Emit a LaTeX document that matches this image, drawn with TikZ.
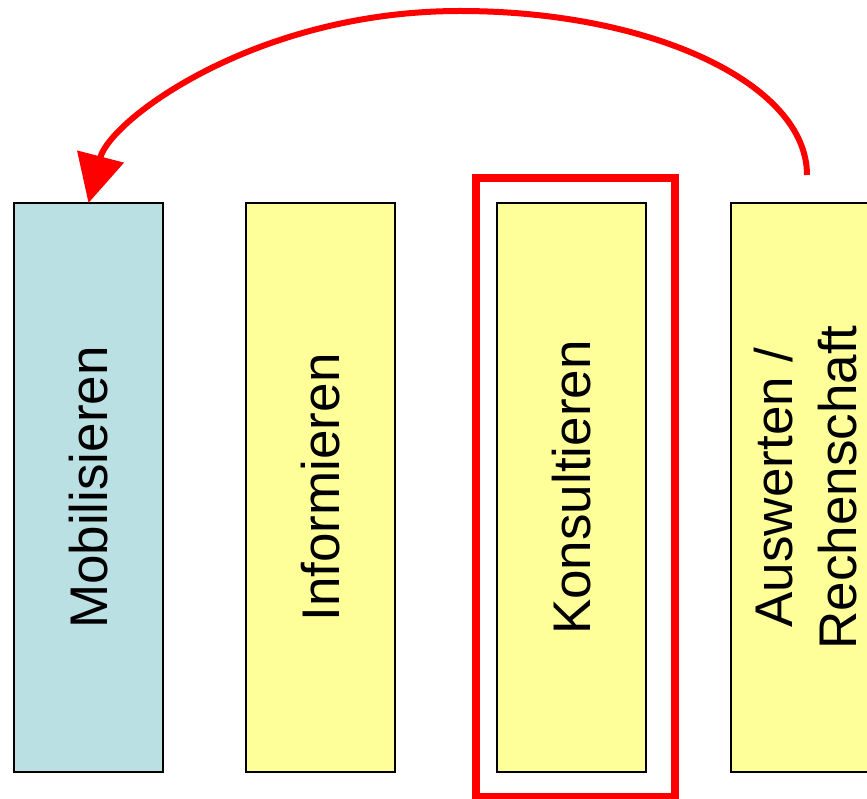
\documentclass[tikz,border=0pt]{standalone}
\usepackage{fontspec}
\setmainfont{Liberation Sans}
\usetikzlibrary{arrows.meta}
\definecolor{boxblue}{HTML}{BBE0E3}
\definecolor{boxyellow}{HTML}{FFFF99}
\begin{document}
\begin{tikzpicture}[x=1pt,y=-1pt,
  stagebox/.style={draw=black,line width=1.5pt,minimum width=149pt,minimum height=569pt,inner sep=0pt,outer sep=0pt,anchor=north west,
    font=\fontsize{53}{64}\selectfont},
  highlight/.style={draw=red,line width=8pt,minimum width=199pt,minimum height=618pt,inner sep=0pt,outer sep=0pt,anchor=north west},
  loop/.style={draw=red,line width=6pt,-{Triangle[length=48pt,width=47pt]}}]
\useasboundingbox (0,0) rectangle (867,799);
\node[highlight] (frame) at (476,178.5) {};
\node[stagebox,fill=boxblue] (mob) at (14,203) {\rotatebox{90}{Mobilisieren}};
\node[stagebox,fill=boxyellow] (inf) at (246,203) {\rotatebox{90}{Informieren}};
\node[stagebox,fill=boxyellow] (kon) at (497,203) {\rotatebox{90}{Konsultieren}};
\node[stagebox,fill=boxyellow] (aus) at (731,203) {\hspace*{12pt}\rotatebox{90}{\begin{tabular}{@{}c@{}}Auswerten /\\Rechenschaft\end{tabular}}};
\coordinate (start) at (807,175);
\coordinate (top) at (460,11);
\draw[loop] (start) .. controls (807,84) and (652,11) .. (top) .. controls (255,11) and (110,120) .. (mob.north);
\end{tikzpicture}
\end{document}
